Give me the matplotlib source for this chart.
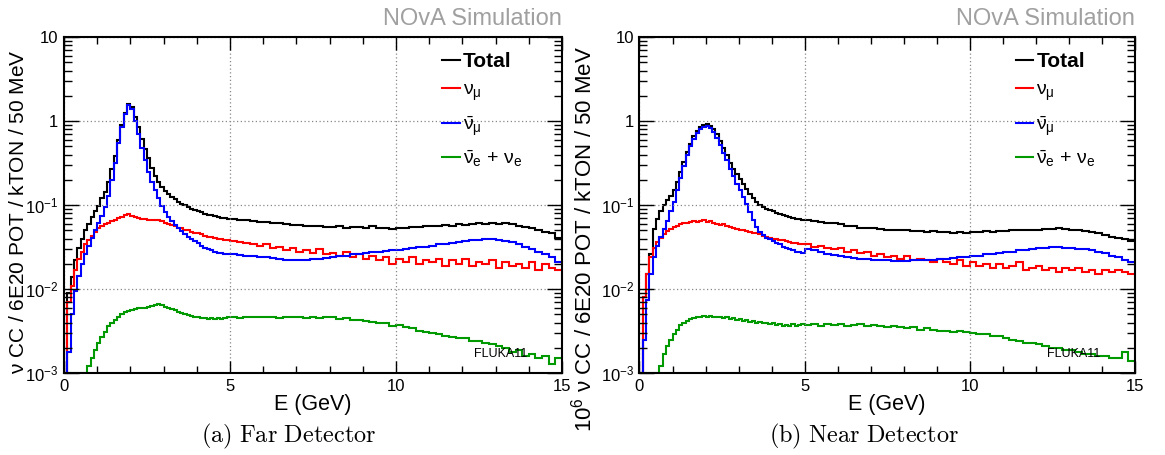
"""
NOvA flux-weighted CC event spectra, far and near detector
"""
import numpy as np
import matplotlib
matplotlib.use("Agg")
import matplotlib.pyplot as plt
from matplotlib.lines import Line2D
from matplotlib.ticker import FixedLocator, FixedFormatter, MultipleLocator

plt.rcParams["font.family"] = ["Liberation Sans", "DejaVu Sans"]
plt.rcParams["mathtext.fontset"] = "custom"
plt.rcParams["mathtext.rm"] = "Liberation Sans"
plt.rcParams["mathtext.it"] = "Liberation Sans"
plt.rcParams["mathtext.bf"] = "Liberation Sans:bold"

# bin edges: 0.1 GeV up to 5 GeV, then 0.2 GeV up to 15 GeV
edges = np.concatenate((np.linspace(0, 5, 51), np.linspace(5, 15, 51)[1:]))

# ---- Far detector (values per bin, 1e-3 = empty bin) ----
fd_total = [
    0.001, 0.009, 0.014, 0.022, 0.031, 0.040, 0.050, 0.060, 0.072, 0.085,
    0.098, 0.12, 0.145, 0.19, 0.27, 0.38, 0.60, 0.90, 1.25, 1.60,
    1.47, 1.12, 0.84, 0.62, 0.46, 0.36, 0.28, 0.225, 0.19, 0.165,
    0.148, 0.135, 0.125, 0.117, 0.110, 0.104, 0.099, 0.094, 0.090, 0.087,
    0.084, 0.082, 0.079, 0.077, 0.076, 0.074, 0.072, 0.071, 0.070, 0.069,
    0.068, 0.067, 0.066, 0.065, 0.063, 0.063, 0.061, 0.061, 0.059, 0.058,
    0.058, 0.057, 0.056, 0.057, 0.055, 0.055, 0.056, 0.054, 0.055, 0.055,
    0.054, 0.056, 0.054, 0.054, 0.052, 0.054, 0.053, 0.055, 0.055, 0.056,
    0.056, 0.057, 0.058, 0.057, 0.059, 0.058, 0.060, 0.061, 0.060, 0.062,
    0.060, 0.061, 0.059, 0.057, 0.055, 0.053, 0.051, 0.048, 0.046, 0.041,
]
fd_numu = [
    0.001, 0.007, 0.011, 0.017, 0.023, 0.028, 0.034, 0.038, 0.043, 0.048,
    0.053, 0.056, 0.059, 0.062, 0.065, 0.067, 0.070, 0.073, 0.076, 0.078,
    0.075, 0.072, 0.070, 0.068, 0.069, 0.067, 0.066, 0.067, 0.066, 0.064,
    0.062, 0.060, 0.058, 0.056, 0.054, 0.053, 0.051, 0.050, 0.048, 0.047,
    0.046, 0.045, 0.043, 0.042, 0.042, 0.041, 0.040, 0.039, 0.038, 0.038,
    0.037, 0.036, 0.035, 0.034, 0.033, 0.034, 0.031, 0.032, 0.029, 0.031,
    0.028, 0.029, 0.027, 0.030, 0.026, 0.027, 0.025, 0.028, 0.024, 0.026,
    0.023, 0.025, 0.022, 0.024, 0.020, 0.023, 0.021, 0.024, 0.020, 0.022,
    0.021, 0.023, 0.019, 0.022, 0.020, 0.023, 0.019, 0.021, 0.020, 0.022,
    0.018, 0.021, 0.019, 0.020, 0.018, 0.021, 0.017, 0.020, 0.018, 0.017,
]
fd_numubar = [
    0.001, 0.0018, 0.005, 0.0095, 0.0145, 0.020, 0.026, 0.033, 0.041, 0.050,
    0.061, 0.075, 0.095, 0.13, 0.20, 0.32, 0.55, 0.85, 1.20, 1.55,
    1.40, 1.00, 0.70, 0.48, 0.34, 0.25, 0.19, 0.15, 0.12, 0.098,
    0.083, 0.072, 0.064, 0.058, 0.053, 0.049, 0.045, 0.042, 0.039, 0.037,
    0.035, 0.033, 0.031, 0.030, 0.029, 0.028, 0.027, 0.027, 0.026, 0.026,
    0.026, 0.0255, 0.025, 0.0245, 0.024, 0.024, 0.0235, 0.023, 0.0225, 0.022,
    0.022, 0.0225, 0.023, 0.023, 0.0235, 0.024, 0.0245, 0.025, 0.026, 0.0265,
    0.027, 0.0275, 0.028, 0.0285, 0.029, 0.0295, 0.030, 0.031, 0.0315, 0.032,
    0.033, 0.034, 0.0345, 0.035, 0.036, 0.037, 0.038, 0.038, 0.039, 0.039,
    0.038, 0.037, 0.036, 0.034, 0.032, 0.030, 0.028, 0.026, 0.024, 0.021,
]
fd_nue = [
    0.001, 0.001, 0.001, 0.001, 0.001, 0.001, 0.001, 0.0012, 0.0015, 0.0019,
    0.0023, 0.0027, 0.0031, 0.0036, 0.0040, 0.0043, 0.0047, 0.0050, 0.0053, 0.0055,
    0.0056, 0.0058, 0.0059, 0.0060, 0.0060, 0.0062, 0.0063, 0.0065, 0.0067, 0.0064,
    0.0062, 0.0060, 0.0058, 0.0056, 0.0054, 0.0052, 0.0051, 0.0049, 0.0048, 0.0047,
    0.0046, 0.0045, 0.0045, 0.0044, 0.0045, 0.0044, 0.0045, 0.0044, 0.0045, 0.0046,
    0.0046, 0.0045, 0.0047, 0.0046, 0.0047, 0.0046, 0.0047, 0.0045, 0.0047, 0.0046,
    0.0047, 0.0045, 0.0046, 0.0045, 0.0046, 0.0047, 0.0044, 0.0045, 0.0043, 0.0043,
    0.0042, 0.0041, 0.0040, 0.0039, 0.0036, 0.0037, 0.0035, 0.0034, 0.0032, 0.0031,
    0.0030, 0.0029, 0.0028, 0.0027, 0.0026, 0.0026, 0.0024, 0.0024, 0.0023, 0.0022,
    0.0021, 0.0020, 0.0018, 0.0019, 0.0016, 0.0017, 0.0015, 0.0016, 0.0013, 0.0015,
]

# ---- Near detector ----
nd_total = [
    0.001, 0.008, 0.015, 0.026, 0.052, 0.068, 0.085, 0.100, 0.115, 0.130,
    0.15, 0.19, 0.25, 0.33, 0.43, 0.54, 0.66, 0.77, 0.85, 0.90,
    0.92, 0.88, 0.80, 0.70, 0.58, 0.48, 0.39, 0.32, 0.27, 0.235,
    0.205, 0.178, 0.155, 0.135, 0.120, 0.108, 0.100, 0.094, 0.090, 0.087,
    0.084, 0.081, 0.079, 0.077, 0.075, 0.073, 0.071, 0.069, 0.068, 0.067,
    0.066, 0.065, 0.063, 0.062, 0.061, 0.059, 0.057, 0.056, 0.054, 0.053,
    0.053, 0.052, 0.051, 0.051, 0.050, 0.050, 0.049, 0.049, 0.048, 0.049,
    0.048, 0.048, 0.047, 0.048, 0.047, 0.048, 0.048, 0.049, 0.048, 0.049,
    0.049, 0.050, 0.050, 0.051, 0.051, 0.051, 0.052, 0.052, 0.053, 0.052,
    0.051, 0.050, 0.049, 0.048, 0.046, 0.044, 0.042, 0.041, 0.039, 0.037,
]
nd_numu = [
    0.001, 0.008, 0.015, 0.024, 0.031, 0.036, 0.041, 0.045, 0.049, 0.052,
    0.055, 0.057, 0.059, 0.061, 0.062, 0.063, 0.064, 0.063, 0.064, 0.066,
    0.063, 0.064, 0.061, 0.060, 0.058, 0.059, 0.056, 0.055, 0.053, 0.052,
    0.051, 0.050, 0.049, 0.048, 0.047, 0.046, 0.045, 0.043, 0.042, 0.041,
    0.040, 0.039, 0.038, 0.038, 0.037, 0.036, 0.035, 0.035, 0.034, 0.034,
    0.034, 0.032, 0.033, 0.031, 0.030, 0.031, 0.028, 0.029, 0.027, 0.028,
    0.025, 0.026, 0.024, 0.025, 0.023, 0.025, 0.022, 0.023, 0.022, 0.021,
    0.023, 0.021, 0.020, 0.022, 0.019, 0.021, 0.019, 0.020, 0.018, 0.020,
    0.018, 0.019, 0.021, 0.017, 0.018, 0.019, 0.017, 0.018, 0.016, 0.018,
    0.017, 0.018, 0.016, 0.017, 0.015, 0.017, 0.016, 0.017, 0.016, 0.015,
]
nd_numubar = [
    0.001, 0.0025, 0.0075, 0.015, 0.024, 0.033, 0.042, 0.052, 0.065, 0.085,
    0.11, 0.15, 0.21, 0.29, 0.39, 0.50, 0.62, 0.73, 0.80, 0.85,
    0.87, 0.82, 0.74, 0.63, 0.52, 0.42, 0.34, 0.27, 0.22, 0.18,
    0.15, 0.125, 0.102, 0.082, 0.066, 0.055, 0.048, 0.044, 0.041, 0.039,
    0.037, 0.035, 0.034, 0.032, 0.031, 0.030, 0.029, 0.028, 0.0275, 0.027,
    0.030, 0.029, 0.028, 0.026, 0.0255, 0.025, 0.024, 0.0235, 0.023, 0.023,
    0.0225, 0.022, 0.022, 0.0215, 0.0215, 0.0215, 0.022, 0.022, 0.022, 0.0225,
    0.023, 0.023, 0.0235, 0.024, 0.024, 0.025, 0.025, 0.026, 0.0265, 0.027,
    0.028, 0.028, 0.029, 0.0295, 0.030, 0.031, 0.031, 0.032, 0.032, 0.031,
    0.031, 0.030, 0.030, 0.029, 0.028, 0.027, 0.025, 0.024, 0.022, 0.021,
]
nd_nue = [
    0.001, 0.001, 0.001, 0.001, 0.001, 0.001, 0.0012, 0.0017, 0.0021, 0.0025,
    0.0029, 0.0033, 0.0037, 0.0040, 0.0042, 0.0044, 0.0045, 0.0047, 0.0046, 0.0048,
    0.0047, 0.0048, 0.0046, 0.0047, 0.0046, 0.0045, 0.0046, 0.0044, 0.0045, 0.0043,
    0.0044, 0.0042, 0.0043, 0.0041, 0.0042, 0.0040, 0.0041, 0.0039, 0.0040, 0.0038,
    0.0039, 0.0037, 0.0038, 0.0036, 0.0037, 0.0036, 0.0038, 0.0036, 0.0037, 0.0038,
    0.0037, 0.0038, 0.0036, 0.0038, 0.0037, 0.0038, 0.0036, 0.0037, 0.0038, 0.0036,
    0.0037, 0.0036, 0.0035, 0.0036, 0.0035, 0.0034, 0.0035, 0.0033, 0.0034, 0.0033,
    0.0032, 0.0032, 0.0031, 0.0032, 0.0031, 0.0030, 0.0029, 0.0029, 0.0028, 0.0028,
    0.0026, 0.0025, 0.0024, 0.0023, 0.0023, 0.0022, 0.0021, 0.0020, 0.0020, 0.0019,
    0.0019, 0.0018, 0.0017, 0.0017, 0.0016, 0.0016, 0.0015, 0.0015, 0.0018, 0.0014,
]

labels = ["Total", r"$\nu_{\mu}$", r"$\bar{\nu}_{\mu}$", r"$\bar{\nu}_{e}$ + $\nu_{e}$"]
colors = ["black", "#ff0000", "#0000ff", "#009900"]
ytick_vals = [1e-3, 1e-2, 1e-1, 1, 10]
ytick_labels = [r"$10^{-3}$", r"$10^{-2}$", r"$10^{-1}$", "1", "10"]
captions = [r"$\mathrm{(a)\ Far\ Detector}$", r"$\mathrm{(b)\ Near\ Detector}$"]
ylabel = r"$10^{6}$ $\nu$ CC / 6E20 POT / kTON / 50 MeV"


def draw_panel(ax, series):
    for vals, c in zip(series, colors):
        ax.stairs(vals, edges, color=c, lw=1.5, baseline=None)

    ax.set_xlim(0, 15)
    ax.set_yscale("log")
    ax.set_ylim(1e-3, 10)
    ax.xaxis.set_major_locator(FixedLocator([0, 5, 10, 15]))
    ax.xaxis.set_minor_locator(MultipleLocator(1))
    ax.yaxis.set_major_locator(FixedLocator(ytick_vals))
    ax.yaxis.set_major_formatter(FixedFormatter(ytick_labels))
    ax.tick_params(which="both", direction="in", top=True, right=True,
                   labelsize=12, width=1.0, pad=4)
    ax.tick_params(which="major", length=11)
    ax.tick_params(which="minor", length=6)
    ax.tick_params(axis="x", which="major", length=9)
    ax.tick_params(axis="x", which="minor", length=5)
    for s in ax.spines.values():
        s.set_linewidth(1.5)
    ax.grid(True, which="major", ls=(0, (1, 2)), color="#888888", lw=0.9)
    ax.set_xlabel("E (GeV)", fontsize=15.5, labelpad=0)

    handles = [Line2D([], [], color=c, lw=1.5) for c in colors]
    leg = ax.legend(handles, labels, loc="upper left", bbox_to_anchor=(0.74, 0.985),
                    frameon=False, fontsize=14, handlelength=0.9, handletextpad=0.15,
                    labelspacing=0.55, borderpad=0)
    leg.get_texts()[0].set_fontweight("bold")
    leg.get_texts()[0].set_fontsize(15)

    ax.text(0.93, 0.04, "FLUKA11", transform=ax.transAxes, ha="right",
            va="bottom", fontsize=9)
    ax.text(1.0, 1.02, "NOvA Simulation", transform=ax.transAxes, ha="right",
            va="bottom", fontsize=17, color="#a0a0a0")


fig = plt.figure(figsize=(11.65, 4.55), dpi=100)
ax1 = fig.add_axes([0.0549, 0.180, 0.4275, 0.7385])
ax2 = fig.add_axes([0.5489, 0.180, 0.4253, 0.7385])

draw_panel(ax1, [fd_total, fd_numu, fd_numubar, fd_nue])
draw_panel(ax2, [nd_total, nd_numu, nd_numubar, nd_nue])

# left panel's axis title is cropped at the bottom in the original
fig.text(0.0155, 0.534, r"$\nu$ CC / 6E20 POT / kTON / 50 MeV", rotation=90,
         ha="center", va="center", fontsize=15)
ax2.set_ylabel(ylabel, fontsize=16, labelpad=2)
ax2.yaxis.set_label_coords(-0.086, 0.40)

fig.text(0.248, 0.04, captions[0], ha="center", va="center", fontsize=17.5,
         math_fontfamily="cm")
fig.text(0.742, 0.04, captions[1], ha="center", va="center", fontsize=17.5,
         math_fontfamily="cm")

fig.savefig("out.png", dpi=100)
